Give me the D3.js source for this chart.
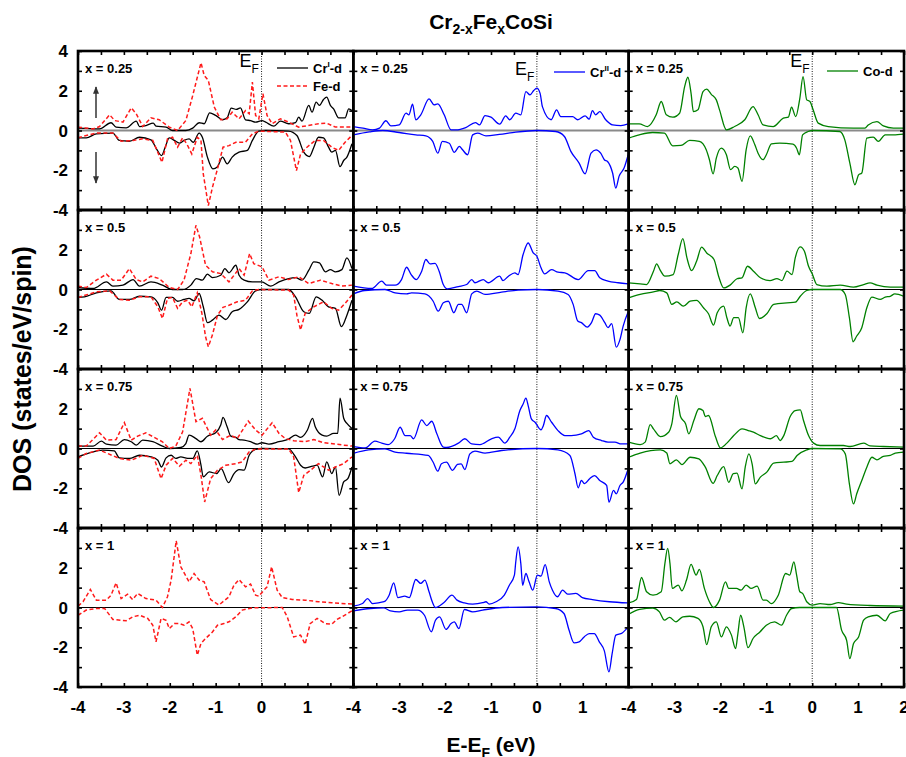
<!DOCTYPE html>
<html>
<head>
<meta charset="utf-8">
<script src="https://cdn.jsdelivr.net/npm/d3@7"></script>
<style>
  body { margin: 0; background: #fff; }
  svg { display: block; font-family: Arial, "Liberation Sans", sans-serif; }
</style>
</head>
<body>
<div id="chart"></div>
<script>
// Cr(2-x)Fe(x)CoSi: DOS parcial por espin (arriba +, abajo -), 4 concentraciones x 3 especies.
// Cada serie: pares [E-EF (eV), DOS (states/eV/spin)].

const concentrations = ["x = 0.25", "x = 0.5", "x = 0.75", "x = 1"];
const xTickLabels = [-4, -3, -2, -1, 0, 1, 2];
const yTickLabels = [4, 2, 0, -2, -4];

// ---- columna 1: Cr(I)-d y Fe-d ----
const crI_up_025 = [[-4,0.12],[-3.53,0.08],[-3.28,0.39],[-3.17,0.17],[-2.95,0.13],[-2.73,0.47],[-2.66,0.2],[-2.52,0.25],[-2.36,0.37],[-2.3,0.22],[-2.08,0.17],[-1.94,0],[-1.65,0],[-1.5,0.12],[-1.36,0.39],[-1.25,0.34],[-1.13,0.89],[-1.0,0.76],[-0.85,0.54],[-0.75,0.64],[-0.66,1.13],[-0.55,1.06],[-0.46,1.14],[-0.35,0.54],[-0.24,0.5],[-0.13,0.42],[0.01,0.5],[0.09,0.42],[0.27,0.22],[0.41,0.47],[0.59,0.34],[0.74,0.4],[0.81,0.67],[0.88,0.47],[1.03,1.26],[1.1,0.92],[1.19,1.43],[1.26,1.26],[1.35,1.56],[1.42,1.68],[1.5,1.26],[1.57,1.09],[1.68,0.64],[1.82,0.64],[1.9,1.09],[1.97,1.0]];
const crI_dn_025 = [[-4,-0.37],[-3.82,-0.37],[-3.6,-0.17],[-3.24,-0.13],[-3.1,-0.5],[-2.88,-0.54],[-2.66,-0.34],[-2.41,-0.47],[-2.29,-0.92],[-2.18,-1.26],[-2.1,-0.84],[-2.01,-0.37],[-1.9,-0.5],[-1.79,-0.64],[-1.69,-0.5],[-1.58,-0.42],[-1.49,-0.59],[-1.36,-0.13],[-1.29,-0.34],[-1.18,-1.34],[-1.06,-1.93],[-0.96,-1.82],[-0.85,-1.34],[-0.75,-1.68],[-0.64,-1.34],[-0.49,-1.09],[-0.31,-1.0],[-0.2,-0.5],[-0.06,-0.03],[0.09,0],[0.59,-0.03],[0.77,-0.25],[0.92,-1.09],[1.04,-1.31],[1.14,-0.84],[1.24,-0.34],[1.35,-0.37],[1.46,-0.84],[1.53,-1.09],[1.61,-1.0],[1.71,-1.82],[1.79,-1.51],[1.86,-1.34],[1.97,-0.67]];
const fe_up_025 = [[-4,0.17],[-3.67,0.08],[-3.53,0.2],[-3.31,0.79],[-3.2,0.5],[-3.02,0.42],[-2.84,1.14],[-2.73,0.84],[-2.59,0.2],[-2.41,0.64],[-2.23,0.54],[-2.01,0.17],[-1.83,0],[-1.65,0.5],[-1.5,1.76],[-1.32,3.41],[-1.25,2.77],[-1.16,2.52],[-1.03,1.18],[-0.89,0.54],[-0.75,0.59],[-0.64,0.92],[-0.49,0.59],[-0.35,1.0],[-0.27,0.84],[-0.2,2.44],[-0.13,0.76],[-0.06,0.59],[0.03,1.85],[0.12,0.76],[0.23,0.34],[0.41,0.59],[0.59,0.42],[0.81,0.17],[1.24,0.34],[1.42,0.37],[1.61,0.17],[1.97,0.17]];
const fe_dn_025 = [[-4,-0.37],[-3.82,-0.25],[-3.6,-0.13],[-3.24,-0.13],[-3.06,-0.54],[-2.8,-0.5],[-2.59,-0.42],[-2.37,-0.5],[-2.17,-1.6],[-2.05,-0.42],[-1.94,-0.34],[-1.83,-0.84],[-1.72,-0.37],[-1.63,-0.67],[-1.52,-1.18],[-1.4,-0.34],[-1.32,-0.5],[-1.27,-2.18],[-1.16,-3.78],[-1.07,-2.86],[-0.96,-1.93],[-0.84,-0.84],[-0.71,-0.76],[-0.56,-0.59],[-0.35,-0.59],[-0.2,-0.17],[-0.06,-0.03],[0.52,-0.08],[0.63,-0.5],[0.76,-2.02],[0.85,-1.18],[0.99,-0.84],[1.17,-0.5],[1.35,-0.5],[1.53,-0.84],[1.68,-1.0],[1.82,-0.59],[1.97,-0.25]];

const crI_up_05 = [[-4,0.1],[-3.67,0.05],[-3.38,0.38],[-3.24,0.17],[-3.02,0.22],[-2.8,0.5],[-2.66,0.17],[-2.41,0.38],[-2.16,0.22],[-1.94,0],[-1.72,0],[-1.54,0.22],[-1.42,0.55],[-1.29,0.47],[-1.18,0.77],[-1.07,0.6],[-0.89,0.72],[-0.8,1.05],[-0.71,0.84],[-0.56,1.22],[-0.49,0.72],[-0.38,0.47],[-0.2,0.38],[0,0.38],[0.2,0.17],[0.38,0.38],[0.59,0.55],[0.74,0.6],[0.88,0.47],[1.03,0.97],[1.14,1.39],[1.26,1.34],[1.39,0.89],[1.5,1.0],[1.61,0.89],[1.75,1.0],[1.86,1.59],[1.97,1.05]];
const crI_dn_05 = [[-4,-0.4],[-3.86,-0.37],[-3.6,-0.17],[-3.28,-0.07],[-3.1,-0.5],[-2.88,-0.5],[-2.66,-0.34],[-2.41,-0.37],[-2.26,-0.67],[-2.18,-1.04],[-2.08,-0.4],[-1.94,-0.4],[-1.83,-0.59],[-1.69,-0.5],[-1.58,-0.45],[-1.47,-0.57],[-1.36,-0.2],[-1.27,-0.87],[-1.18,-1.67],[-1.07,-1.54],[-0.93,-1.29],[-0.78,-1.51],[-0.64,-1.12],[-0.49,-1.0],[-0.31,-0.62],[-0.13,-0.07],[0.01,0],[0.59,0],[0.74,-0.37],[0.92,-1.12],[1.04,-1.2],[1.19,-0.37],[1.32,-0.54],[1.46,-0.87],[1.61,-0.95],[1.74,-1.87],[1.86,-1.29],[1.97,-0.54]];
const fe_up_05 = [[-4,0.17],[-3.82,0.1],[-3.6,0.47],[-3.38,0.77],[-3.24,0.47],[-3.06,0.47],[-2.88,1.05],[-2.73,0.5],[-2.59,0.38],[-2.41,0.67],[-2.23,0.55],[-2.01,0.1],[-1.83,0],[-1.69,0.47],[-1.54,1.81],[-1.43,3.23],[-1.35,2.64],[-1.22,1.22],[-1.07,0.89],[-0.89,0.8],[-0.71,0.38],[-0.49,1.05],[-0.38,0.72],[-0.26,1.81],[-0.17,1.3],[0.01,1.14],[0.16,0.47],[0.38,0.64],[0.59,0.5],[0.81,0.64],[1.03,0.3],[1.28,0.47],[1.53,0.3],[1.75,0.17],[1.97,0.22]];
const fe_dn_05 = [[-4,-0.4],[-3.6,-0.12],[-3.31,-0.07],[-3.1,-0.5],[-2.88,-0.54],[-2.66,-0.37],[-2.41,-0.37],[-2.26,-0.87],[-2.16,-1.46],[-2.05,-0.45],[-1.94,-0.4],[-1.83,-0.95],[-1.72,-0.62],[-1.61,-0.54],[-1.52,-0.87],[-1.4,-0.17],[-1.3,-1.2],[-1.22,-2.38],[-1.16,-2.88],[-1.07,-2.28],[-0.96,-1.29],[-0.84,-0.9],[-0.71,-0.79],[-0.53,-0.62],[-0.35,-0.54],[-0.2,-0.07],[-0.06,0],[0.59,-0.03],[0.7,-0.28],[0.77,-1.29],[0.85,-2.04],[0.95,-1.2],[1.14,-0.87],[1.35,-0.62],[1.53,-0.95],[1.68,-1.04],[1.82,-0.7],[1.97,-0.28]];

const crI_up_075 = [[-4,0.12],[-3.67,0.12],[-3.49,0.37],[-3.38,0.22],[-3.17,0.17],[-2.99,0.45],[-2.84,0.34],[-2.73,0.17],[-2.59,0.42],[-2.37,0.34],[-2.16,0.12],[-2.01,0],[-1.76,0.05],[-1.65,0.25],[-1.58,0.67],[-1.43,0.5],[-1.32,0.34],[-1.18,0.62],[-1.0,0.79],[-0.89,1.18],[-0.84,1.57],[-0.75,1.09],[-0.67,0.62],[-0.56,0.56],[-0.49,0.45],[-0.38,0.42],[-0.24,0.34],[-0.09,0.22],[0.01,0.29],[0.16,0.22],[0.38,0.34],[0.59,0.47],[0.74,0.67],[0.85,0.56],[1.0,0.93],[1.11,1.52],[1.17,1.09],[1.32,0.67],[1.42,0.62],[1.57,0.76],[1.66,0.76],[1.71,2.53],[1.79,1.52],[1.86,1.26],[1.97,1.01]];
const crI_dn_075 = [[-4,-0.42],[-3.75,-0.22],[-3.46,-0.08],[-3.21,-0.12],[-3.1,-0.47],[-2.88,-0.5],[-2.66,-0.34],[-2.41,-0.42],[-2.26,-0.59],[-2.18,-0.93],[-2.08,-0.47],[-1.97,-0.34],[-1.87,-0.5],[-1.76,-0.42],[-1.61,-0.5],[-1.5,-0.5],[-1.4,-0.12],[-1.32,-0.84],[-1.27,-1.43],[-1.14,-1.18],[-0.98,-1.26],[-0.88,-1.01],[-0.72,-1.72],[-0.6,-1.26],[-0.49,-1.06],[-0.38,-1.09],[-0.27,-0.34],[-0.13,-0.05],[0.01,0],[0.59,-0.02],[0.74,-0.42],[0.85,-0.84],[0.95,-0.98],[1.11,-0.89],[1.21,-0.84],[1.33,-1.43],[1.42,-0.67],[1.53,-1.26],[1.61,-0.93],[1.69,-2.36],[1.79,-1.68],[1.88,-1.52],[1.97,-0.93]];
const fe_up_075 = [[-4,0.12],[-3.82,0.12],[-3.53,0.79],[-3.38,0.42],[-3.17,0.45],[-2.99,1.3],[-2.84,0.42],[-2.7,0.62],[-2.52,0.79],[-2.34,0.56],[-2.16,0.34],[-2.01,0],[-1.87,0.12],[-1.72,0.84],[-1.56,3.03],[-1.43,1.35],[-1.29,1.52],[-1.11,0.67],[-1.0,0.93],[-0.85,0.45],[-0.67,0.67],[-0.53,0.5],[-0.29,1.38],[-0.13,0.93],[0.01,0.67],[0.23,1.3],[0.38,0.76],[0.52,0.5],[0.7,0.39],[0.95,0.34],[1.14,0.45],[1.35,0.29],[1.61,0.22],[1.97,0.12]];
const fe_dn_075 = [[-4,-0.5],[-3.82,-0.25],[-3.53,-0.08],[-3.1,-0.5],[-2.84,-0.59],[-2.59,-0.34],[-2.34,-0.5],[-2.19,-1.52],[-2.08,-0.84],[-1.94,-0.5],[-1.79,-0.89],[-1.65,-0.59],[-1.54,-0.76],[-1.4,-0.34],[-1.32,-1.35],[-1.24,-2.69],[-1.11,-1.52],[-0.96,-1.09],[-0.78,-0.84],[-0.56,-0.76],[-0.42,-0.67],[-0.27,-0.17],[-0.13,-0.03],[0.59,-0.02],[0.7,-0.42],[0.81,-2.22],[0.92,-1.35],[1.07,-1.09],[1.24,-0.76],[1.46,-1.09],[1.61,-0.93],[1.79,-0.76],[1.97,-0.42]];

const fe_up_1 = [[-4,0.07],[-3.89,0.29],[-3.73,0.91],[-3.6,0.37],[-3.38,0.37],[-3.28,0.62],[-3.17,1.24],[-3.06,0.45],[-2.92,0.67],[-2.81,0.4],[-2.7,0.71],[-2.52,0.45],[-2.3,0.37],[-2.16,0],[-2.05,0.54],[-1.97,1.38],[-1.86,3.36],[-1.76,2.05],[-1.58,1.29],[-1.47,1.71],[-1.36,1.38],[-1.25,1.29],[-1.11,0.4],[-0.93,0.12],[-0.71,0.54],[-0.6,1.13],[-0.49,1.41],[-0.35,1.04],[-0.24,1.18],[-0.13,0.62],[-0.06,0.57],[0.05,0.87],[0.12,1.04],[0.22,2.05],[0.34,0.87],[0.45,0.5],[0.67,0.4],[0.95,0.37],[1.24,0.29],[1.53,0.24],[1.97,0.17]];
const fe_dn_1 = [[-4,-0.39],[-3.82,-0.13],[-3.6,-0.05],[-3.42,-0.05],[-3.24,-0.6],[-2.95,-0.67],[-2.81,-0.47],[-2.66,-0.39],[-2.48,-0.55],[-2.37,-0.89],[-2.3,-1.73],[-2.19,-0.55],[-2.08,-0.64],[-2.01,-1.06],[-1.9,-0.81],[-1.79,-0.81],[-1.69,-0.89],[-1.58,-0.72],[-1.5,-1.06],[-1.4,-2.4],[-1.32,-1.81],[-1.22,-1.56],[-1.07,-1.23],[-0.96,-0.89],[-0.82,-0.81],[-0.71,-0.72],[-0.56,-0.47],[-0.42,-0.13],[-0.2,-0.02],[0.45,0],[0.56,-0.47],[0.7,-1.48],[0.85,-1.39],[0.95,-1.85],[1.06,-0.81],[1.21,-0.55],[1.39,-0.81],[1.53,-0.84],[1.64,-0.6],[1.75,-0.47],[1.97,-0.17]];

// ---- columna 2: Cr(II)-d ----
const crII_up_025 = [[-4,0.2],[-3.79,0.12],[-3.58,0.03],[-3.43,0.12],[-3.29,0.49],[-3.18,0.23],[-3.0,0.28],[-2.85,0.87],[-2.79,0.79],[-2.71,1.32],[-2.64,0.54],[-2.53,0.79],[-2.35,1.59],[-2.24,1.29],[-2.16,1.34],[-2.02,0.79],[-1.87,0.03],[-1.76,0.03],[-1.55,0.15],[-1.34,0.4],[-1.25,0.28],[-1.13,0.75],[-1.0,0.67],[-0.81,0.32],[-0.68,0.74],[-0.59,0.54],[-0.46,0.87],[-0.35,0.79],[-0.24,1.96],[-0.15,1.79],[-0.07,2.01],[0,2.13],[0.07,1.87],[0.12,1.2],[0.31,0.54],[0.43,1.04],[0.52,0.7],[0.78,0.7],[0.89,0.54],[1.05,0.74],[1.14,0.57],[1.21,1.0],[1.28,0.79],[1.37,0.95],[1.5,0.54],[1.65,0.28],[1.83,0.25],[1.99,0.33]];
const crII_dn_025 = [[-4,-0.22],[-3.65,-0.07],[-3.36,0],[-3.0,-0.1],[-2.64,-0.22],[-2.42,-0.27],[-2.27,-0.55],[-2.16,-1.14],[-2.06,-0.55],[-1.91,-0.64],[-1.8,-1.1],[-1.69,-0.8],[-1.62,-0.97],[-1.51,-1.22],[-1.4,-0.22],[-1.29,-0.13],[-1.11,-0.27],[-0.82,-0.2],[-0.46,-0.08],[0,0],[0.41,-0.05],[0.6,-0.3],[0.74,-1.05],[0.92,-1.64],[1.05,-2.18],[1.18,-1.14],[1.29,-0.97],[1.39,-1.14],[1.47,-1.47],[1.54,-1.56],[1.65,-2.14],[1.72,-2.9],[1.79,-2.31],[1.9,-1.89],[1.99,-1.22]];
const crII_up_05 = [[-4,0.17],[-3.6,0.05],[-3.38,0.42],[-3.28,0.22],[-3.09,0.22],[-2.95,0.5],[-2.84,1.12],[-2.74,0.75],[-2.63,0.5],[-2.51,0.92],[-2.42,1.51],[-2.33,1.29],[-2.22,1.31],[-2.13,0.92],[-2.04,0.25],[-1.95,0.03],[-1.71,0.15],[-1.53,0.25],[-1.42,0.5],[-1.35,0.34],[-1.17,0.5],[-1.06,0.34],[-0.81,0.67],[-0.74,0.45],[-0.62,0.67],[-0.48,0.84],[-0.41,0.75],[-0.3,1.76],[-0.19,2.34],[-0.08,1.84],[0,1.67],[0.09,1.09],[0.17,0.79],[0.32,1.0],[0.46,0.87],[0.61,0.84],[0.9,0.5],[1.12,0.95],[1.26,0.95],[1.37,0.59],[1.55,0.42],[1.77,0.34],[1.99,0.28]];
const crII_dn_05 = [[-4,-0.22],[-3.75,-0.05],[-3.31,0],[-3.09,-0.17],[-2.84,-0.22],[-2.73,-0.17],[-2.44,-0.22],[-2.26,-0.59],[-2.15,-1.09],[-2.04,-0.67],[-1.93,-0.59],[-1.81,-1.17],[-1.71,-0.75],[-1.64,-0.75],[-1.53,-1.17],[-1.42,-0.22],[-1.31,-0.08],[-1.13,-0.25],[-0.77,-0.13],[-0.41,-0.03],[0,0],[0.46,-0.08],[0.68,-0.25],[0.79,-0.75],[0.89,-1.59],[0.97,-1.67],[1.1,-1.89],[1.19,-1.67],[1.28,-1.22],[1.37,-1.29],[1.48,-1.67],[1.55,-1.92],[1.63,-1.72],[1.73,-2.9],[1.81,-2.52],[1.88,-1.84],[1.99,-1.12]];
const crII_up_075 = [[-4,0.1],[-3.74,0.03],[-3.53,0.37],[-3.38,0.27],[-3.24,0.2],[-3.1,0.49],[-2.98,1.07],[-2.87,0.65],[-2.76,0.65],[-2.69,0.49],[-2.51,1.44],[-2.4,1.15],[-2.29,1.37],[-2.18,0.74],[-2.04,0.07],[-1.97,0.05],[-1.71,0.27],[-1.57,0.49],[-1.42,0.23],[-1.24,0.2],[-0.99,0.49],[-0.84,0.57],[-0.7,0.27],[-0.59,0.57],[-0.48,0.99],[-0.37,1.91],[-0.3,2.24],[-0.24,2.53],[-0.19,2.16],[-0.12,1.49],[-0.04,1.32],[0.09,0.94],[0.14,1.15],[0.21,1.66],[0.32,1.32],[0.46,0.9],[0.61,0.65],[0.75,0.65],[0.97,0.74],[1.13,0.9],[1.23,0.57],[1.41,0.4],[1.55,0.32],[1.7,0.32],[1.84,0.23],[1.99,0.23]];
const crII_dn_075 = [[-4,-0.24],[-3.67,-0.07],[-3.31,-0.02],[-3.09,-0.18],[-2.84,-0.24],[-2.37,-0.35],[-2.26,-0.69],[-2.16,-1.14],[-2.08,-0.77],[-1.97,-0.69],[-1.84,-1.1],[-1.73,-0.8],[-1.65,-0.77],[-1.57,-1.06],[-1.46,-0.27],[-1.35,-0.13],[-1.13,-0.23],[-0.77,-0.1],[0,0],[0.46,-0.07],[0.72,-0.35],[0.83,-1.27],[0.9,-1.98],[0.97,-1.61],[1.04,-1.77],[1.15,-1.52],[1.26,-1.36],[1.37,-1.61],[1.52,-1.86],[1.57,-2.7],[1.67,-2.11],[1.73,-2.28],[1.81,-1.86],[1.88,-1.69],[1.99,-1.02]];
const crII_up_1 = [[-4,0.07],[-3.8,0.2],[-3.69,0.45],[-3.58,0.2],[-3.33,0.29],[-3.22,0.62],[-3.12,1.24],[-3.03,0.5],[-2.88,0.57],[-2.78,0.5],[-2.64,1.41],[-2.53,1.21],[-2.44,1.38],[-2.35,0.79],[-2.28,0.29],[-2.21,0],[-2.03,0.24],[-1.85,0.62],[-1.74,0.37],[-1.58,0.23],[-1.4,0.17],[-1.18,0.24],[-1.11,0.29],[-1.04,0.17],[-0.89,0.29],[-0.71,0.62],[-0.6,1.12],[-0.49,1.63],[-0.46,2.3],[-0.41,3.05],[-0.35,2.21],[-0.31,1.12],[-0.24,1.71],[-0.17,1.29],[-0.09,0.87],[0.01,1.63],[0.09,1.58],[0.18,2.16],[0.27,1.29],[0.34,0.87],[0.45,0.54],[0.56,0.87],[0.67,0.67],[0.85,0.71],[0.99,0.5],[1.21,0.4],[1.58,0.29],[1.98,0.23]];
const crII_dn_1 = [[-4,-0.17],[-3.63,-0.05],[-3.34,-0.02],[-3.19,-0.17],[-3.0,-0.22],[-2.82,-0.13],[-2.6,-0.13],[-2.45,-0.39],[-2.3,-1.22],[-2.21,-0.64],[-2.12,-0.47],[-1.98,-1.1],[-1.87,-0.81],[-1.8,-0.72],[-1.7,-1.06],[-1.58,-0.1],[-1.4,-0.22],[-1.18,-0.13],[-0.75,0],[0,0.03],[0.41,-0.05],[0.59,-0.3],[0.7,-1.13],[0.81,-1.78],[0.92,-1.73],[1.03,-1.48],[1.14,-1.31],[1.25,-1.31],[1.36,-1.73],[1.47,-2.18],[1.57,-3.24],[1.64,-2.32],[1.72,-1.39],[1.86,-1.28],[1.98,-1.0]];

// ---- columna 3: Co-d ----
const co_up_025 = [[-4,0.33],[-3.77,0.33],[-3.59,0.2],[-3.4,0.79],[-3.29,1.46],[-3.18,0.79],[-3.04,0.67],[-2.89,0.87],[-2.78,2.21],[-2.71,2.68],[-2.64,1.87],[-2.59,0.95],[-2.49,1.04],[-2.38,1.96],[-2.3,2.08],[-2.2,1.82],[-2.09,1.54],[-2.02,1.04],[-1.87,0.03],[-1.69,0.2],[-1.47,0.54],[-1.29,1.2],[-1.18,0.79],[-1.07,0.28],[-0.85,0.2],[-0.63,0.62],[-0.52,0.67],[-0.45,1.17],[-0.36,0.7],[-0.27,1.62],[-0.2,2.71],[-0.12,1.54],[-0.05,1.46],[0.02,1.04],[0.13,0.37],[0.35,0.2],[0.9,0.12],[1.15,0.12],[1.22,0.28],[1.41,0.45],[1.55,0.23],[1.77,0.12],[1.99,0.12]];
const co_dn_025 = [[-4,-0.38],[-3.77,-0.22],[-3.48,-0.1],[-3.22,-0.13],[-3.04,-0.77],[-2.86,-0.75],[-2.67,-0.5],[-2.46,-0.55],[-2.31,-0.97],[-2.24,-1.47],[-2.16,-2.18],[-2.09,-1.39],[-1.98,-0.89],[-1.87,-1.22],[-1.78,-1.97],[-1.69,-1.81],[-1.62,-1.89],[-1.53,-2.56],[-1.44,-0.97],[-1.35,-0.27],[-1.25,-0.72],[-1.18,-1.14],[-1.07,-1.47],[-1.0,-1.22],[-0.89,-0.67],[-0.71,-0.64],[-0.42,-0.69],[-0.34,-0.89],[-0.28,-1.22],[-0.21,-0.22],[-0.09,-0.05],[0.02,0],[0.6,-0.05],[0.71,-0.47],[0.82,-1.64],[0.93,-2.73],[1.01,-2.23],[1.08,-2.14],[1.19,-0.38],[1.33,-0.33],[1.44,-0.55],[1.59,-0.22],[1.77,-0.22],[1.99,-0.18]];
const co_up_05 = [[-4,0.33],[-3.75,0.28],[-3.61,0.25],[-3.46,0.92],[-3.39,1.29],[-3.32,1.0],[-3.21,0.67],[-3.03,0.75],[-2.92,1.76],[-2.82,2.56],[-2.73,1.59],[-2.63,0.95],[-2.52,1.42],[-2.41,2.13],[-2.3,1.84],[-2.14,1.51],[-2.04,0.67],[-1.93,0.08],[-1.79,0.22],[-1.64,0.54],[-1.53,0.59],[-1.41,1.17],[-1.28,0.92],[-1.13,0.59],[-0.92,0.45],[-0.77,0.55],[-0.66,0.45],[-0.55,0.92],[-0.44,0.75],[-0.37,1.59],[-0.26,2.14],[-0.17,1.92],[-0.08,1.17],[0,0.79],[0.1,0.25],[0.32,0.17],[0.61,0.22],[0.9,0.12],[1.12,0.25],[1.26,0.33],[1.41,0.22],[1.7,0.12],[1.99,0.12]];
const co_dn_05 = [[-4,-0.42],[-3.75,-0.25],[-3.46,-0.12],[-3.32,-0.05],[-3.17,-0.17],[-3.06,-0.75],[-2.95,-0.62],[-2.81,-0.84],[-2.66,-0.59],[-2.52,-0.55],[-2.37,-0.92],[-2.26,-1.22],[-2.15,-1.79],[-2.07,-1.17],[-1.93,-0.84],[-1.86,-1.42],[-1.79,-1.84],[-1.71,-1.42],[-1.61,-1.42],[-1.51,-2.18],[-1.44,-0.92],[-1.35,-0.22],[-1.24,-0.92],[-1.15,-1.46],[-0.99,-1.22],[-0.84,-0.75],[-0.55,-0.67],[-0.37,-0.64],[-0.26,-0.34],[-0.12,-0.05],[0,0],[0.61,0],[0.72,-0.25],[0.81,-1.42],[0.89,-2.63],[0.97,-2.34],[1.08,-1.92],[1.19,-0.92],[1.3,-0.38],[1.48,-0.5],[1.59,-0.38],[1.7,-0.34],[1.8,-0.22],[1.99,-0.34]];
const co_up_075 = [[-4,0.32],[-3.75,0.2],[-3.64,0.32],[-3.53,1.2],[-3.46,0.99],[-3.31,0.6],[-3.13,0.82],[-3.06,1.24],[-2.96,2.67],[-2.87,1.61],[-2.76,1.24],[-2.69,0.74],[-2.58,1.41],[-2.47,2.0],[-2.38,1.91],[-2.33,1.61],[-2.26,1.66],[-2.11,0.6],[-2.0,0.03],[-1.86,0.27],[-1.71,0.65],[-1.53,0.99],[-1.39,0.9],[-1.28,0.82],[-1.13,0.65],[-0.91,0.49],[-0.78,0.65],[-0.7,0.4],[-0.62,0.65],[-0.48,1.61],[-0.37,1.91],[-0.26,1.94],[-0.19,1.41],[-0.08,0.65],[0.03,0.27],[0.17,0.15],[0.68,0.15],[0.83,0.1],[1.12,0.27],[1.26,0.13],[1.55,0.1],[1.99,0.07]];
const co_dn_075 = [[-4,-0.44],[-3.75,-0.23],[-3.31,-0.07],[-3.17,-0.23],[-3.1,-0.77],[-2.96,-0.57],[-2.84,-0.81],[-2.66,-0.44],[-2.47,-0.52],[-2.33,-0.94],[-2.16,-1.75],[-2.07,-1.36],[-1.93,-0.91],[-1.82,-1.7],[-1.72,-1.27],[-1.64,-1.24],[-1.53,-2.03],[-1.46,-0.94],[-1.38,-0.27],[-1.31,-0.77],[-1.24,-1.78],[-1.13,-1.44],[-0.99,-1.19],[-0.84,-0.74],[-0.62,-0.69],[-0.44,-0.65],[-0.33,-0.35],[-0.12,-0.07],[0,0],[0.61,-0.02],[0.72,-0.27],[0.81,-1.78],[0.9,-2.79],[0.97,-2.28],[1.08,-1.61],[1.19,-0.94],[1.3,-0.44],[1.41,-0.57],[1.55,-0.4],[1.7,-0.35],[1.81,-0.23],[1.99,-0.18]];
const co_up_1 = [[-4,0.23],[-3.83,0.4],[-3.72,1.51],[-3.61,0.79],[-3.47,0.62],[-3.29,0.79],[-3.21,2.22],[-3.15,2.97],[-3.1,2.22],[-3.05,0.96],[-2.92,1.13],[-2.84,0.84],[-2.74,1.38],[-2.64,2.17],[-2.53,1.63],[-2.46,1.92],[-2.35,0.96],[-2.24,0.29],[-2.15,0],[-2.02,0.37],[-1.89,1.29],[-1.82,0.96],[-1.65,0.96],[-1.55,0.87],[-1.44,1.13],[-1.33,0.96],[-1.2,1.08],[-1.07,0.37],[-1.0,0.37],[-0.89,0.2],[-0.74,0.62],[-0.58,1.71],[-0.49,1.63],[-0.4,2.3],[-0.34,1.63],[-0.27,0.79],[-0.21,0.71],[-0.12,0.29],[0,0.12],[0.17,0.2],[0.39,0.15],[0.57,0.25],[0.75,0.17],[1.26,0.1],[1.99,0.07]];
const co_dn_1 = [[-4,-0.34],[-3.76,-0.1],[-3.47,-0.03],[-3.33,-0.22],[-3.22,-0.64],[-3.11,-0.5],[-2.97,-0.72],[-2.82,-0.47],[-2.67,-0.44],[-2.49,-0.55],[-2.38,-0.97],[-2.3,-1.87],[-2.2,-0.97],[-2.09,-0.72],[-1.98,-1.48],[-1.87,-0.97],[-1.76,-1.39],[-1.67,-2.07],[-1.62,-1.31],[-1.56,-0.39],[-1.49,-0.97],[-1.4,-2.02],[-1.29,-1.56],[-1.14,-1.23],[-1.0,-0.89],[-0.82,-0.72],[-0.67,-0.89],[-0.56,-0.39],[-0.45,-0.05],[-0.27,0],[0.53,0],[0.64,-1.14],[0.75,-1.65],[0.82,-2.57],[0.9,-1.81],[1.01,-1.48],[1.12,-0.64],[1.22,-0.47],[1.41,-0.39],[1.59,-0.67],[1.7,-0.3],[1.99,-0.13]];

// estilos por especie
const STYLE = {
  crI:  { color: "#000000", dash: null,  width: 1.3, curve: d3.curveMonotoneX },
  fe:   { color: "#ff1a1a", dash: "4,2.5", width: 1.5, curve: d3.curveLinear },
  crII: { color: "#0000ff", dash: null,  width: 1.3, curve: d3.curveMonotoneX },
  co:   { color: "#008000", dash: null,  width: 1.3, curve: d3.curveMonotoneX },
};

// panels[fila][columna] = lista de [especie, datos]
const panels = [
  [[["crI", crI_up_025], ["crI", crI_dn_025], ["fe", fe_up_025], ["fe", fe_dn_025]], [["crII", crII_up_025], ["crII", crII_dn_025]], [["co", co_up_025], ["co", co_dn_025]]],
  [[["crI", crI_up_05], ["crI", crI_dn_05], ["fe", fe_up_05], ["fe", fe_dn_05]], [["crII", crII_up_05], ["crII", crII_dn_05]], [["co", co_up_05], ["co", co_dn_05]]],
  [[["crI", crI_up_075], ["crI", crI_dn_075], ["fe", fe_up_075], ["fe", fe_dn_075]], [["crII", crII_up_075], ["crII", crII_dn_075]], [["co", co_up_075], ["co", co_dn_075]]],
  [[["fe", fe_up_1], ["fe", fe_dn_1]], [["crII", crII_up_1], ["crII", crII_dn_1]], [["co", co_up_1], ["co", co_dn_1]]],
];

const width = 906, height = 757;
const plotLeft = 78, plotTop = 51;
const colW = 826 / 3, rowH = 159;

const x = d3.scaleLinear().domain([-4, 2]).range([0, colW]);
const y = d3.scaleLinear().domain([-4, 4]).range([rowH, 0]);

const svg = d3.select("#chart").append("svg")
  .attr("width", width).attr("height", height);

const defs = svg.append("defs");
defs.append("clipPath").attr("id", "panelClip")
  .append("rect").attr("x", 0).attr("y", 0).attr("width", colW).attr("height", rowH);
defs.append("marker").attr("id", "arrow").attr("viewBox", "0 0 10 10")
  .attr("refX", 9).attr("refY", 5).attr("markerWidth", 5).attr("markerHeight", 6)
  .attr("orient", "auto")
  .append("path").attr("d", "M0,1 L10,5 L0,9 Z").attr("fill", "#333");

panels.forEach((row, r) => {
  row.forEach((series, c) => {
    const g = svg.append("g")
      .attr("transform", `translate(${plotLeft + c * colW},${plotTop + r * rowH})`);
    const plot = g.append("g").attr("clip-path", "url(#panelClip)");

    // linea de cero
    plot.append("line")
      .attr("x1", 0).attr("x2", colW).attr("y1", y(0)).attr("y2", y(0))
      .attr("stroke", r === 0 ? "#8a8a8a" : "#000")
      .attr("stroke-width", r === 0 ? 2 : 1);

    // nivel de Fermi
    plot.append("line")
      .attr("x1", x(0)).attr("x2", x(0)).attr("y1", 0).attr("y2", rowH)
      .attr("stroke", "#000").attr("stroke-width", 0.9)
      .attr("stroke-dasharray", "1,1.5");

    series.forEach(([sp, data]) => {
      const st = STYLE[sp];
      const line = d3.line().x(d => x(d[0])).y(d => y(d[1])).curve(st.curve);
      plot.append("path")
        .attr("d", line(data))
        .attr("fill", "none")
        .attr("stroke", st.color)
        .attr("stroke-width", st.width)
        .attr("stroke-dasharray", st.dash);
    });

    // ticks hacia dentro en los 4 lados
    const xt = d3.range(-4, 2.001, 0.5), yt = d3.range(-4, 4.001, 1);
    const tickAxes = [
      [d3.axisBottom(x).tickValues(xt), `translate(0,${rowH})`],
      [d3.axisTop(x).tickValues(xt), "translate(0,0)"],
      [d3.axisLeft(y).tickValues(yt), "translate(0,0)"],
      [d3.axisRight(y).tickValues(yt), `translate(${colW},0)`],
    ];
    tickAxes.forEach(([ax, tr]) => {
      const a = g.append("g").attr("transform", tr)
        .call(ax.tickSize(-4).tickSizeOuter(0).tickFormat(""));
      a.select(".domain").remove();
      a.selectAll(".tick line").attr("stroke", "#000").attr("stroke-width", 1.6);
    });

    g.append("rect")
      .attr("x", 0).attr("y", 0).attr("width", colW).attr("height", rowH)
      .attr("fill", "none").attr("stroke", "#000").attr("stroke-width", 2.6);

    g.append("text")
      .attr("x", 7).attr("y", 22)
      .attr("font-size", "13px").attr("font-weight", "bold")
      .text(concentrations[r]);

    // etiquetas del eje y (solo columna izquierda)
    if (c === 0) {
      const labs = r === 0 ? yTickLabels : yTickLabels.slice(1);
      labs.forEach(v => {
        g.append("text")
          .attr("x", -10).attr("y", y(v)).attr("dy", "0.36em")
          .attr("text-anchor", "end")
          .attr("font-size", "17px").attr("font-weight", "bold")
          .text(String(v));
      });
    }
    // etiquetas del eje x (solo ultima fila)
    if (r === panels.length - 1) {
      const labs = c === 2 ? xTickLabels : xTickLabels.slice(0, -1);
      labs.forEach(v => {
        g.append("text")
          .attr("x", x(v)).attr("y", rowH + 26)
          .attr("text-anchor", "middle")
          .attr("font-size", "17px").attr("font-weight", "bold")
          .text(String(v));
      });
    }
  });
});

// E_F en la fila superior
const efY = [67, 75, 67];
[0, 1, 2].forEach(c => {
  const t = svg.append("text")
    .attr("x", plotLeft + c * colW + x(0) - 22).attr("y", efY[c])
    .attr("font-size", "18px");
  t.append("tspan").text("E");
  t.append("tspan").attr("font-size", "12px").attr("dy", 6).text("F");
});

// leyendas
function legendEntry(px, py, sp, main, sup, rest) {
  const st = STYLE[sp];
  svg.append("line")
    .attr("x1", px).attr("x2", px + 31).attr("y1", py).attr("y2", py)
    .attr("stroke", st.color).attr("stroke-width", st.width)
    .attr("stroke-dasharray", st.dash);
  const t = svg.append("text")
    .attr("x", px + 36).attr("y", py + 5)
    .attr("font-size", "13px").attr("font-weight", "bold");
  t.append("tspan").text(main);
  if (sup) {
    t.append("tspan").attr("font-size", "8px").attr("dy", -6).text(sup);
    t.append("tspan").attr("dy", 6).text(rest);
  } else {
    t.append("tspan").text(rest);
  }
}
legendEntry(277, 68, "crI", "Cr", "I", "-d");
legendEntry(277, 86, "fe", "Fe", null, "-d");
legendEntry(554, 72, "crII", "Cr", "II", "-d");
legendEntry(827, 71, "co", "Co", null, "-d");

// flechas de espin
svg.append("line").attr("x1", 96).attr("x2", 96).attr("y1", 118).attr("y2", 87)
  .attr("stroke", "#333").attr("stroke-width", 1.5).attr("marker-end", "url(#arrow)");
svg.append("line").attr("x1", 96).attr("x2", 96).attr("y1", 152).attr("y2", 183)
  .attr("stroke", "#333").attr("stroke-width", 1.5).attr("marker-end", "url(#arrow)");

// titulo
const title = svg.append("text")
  .attr("x", 491).attr("y", 29).attr("text-anchor", "middle")
  .attr("font-size", "21px").attr("font-weight", "bold");
title.append("tspan").text("Cr");
title.append("tspan").attr("font-size", "14px").attr("dy", 5).text("2-x");
title.append("tspan").attr("dy", -5).text("Fe");
title.append("tspan").attr("font-size", "14px").attr("dy", 5).text("x");
title.append("tspan").attr("dy", -5).text("CoSi");

// titulos de ejes
svg.append("text")
  .attr("transform", `translate(31,${plotTop + 2 * rowH}) rotate(-90)`)
  .attr("text-anchor", "middle")
  .attr("font-size", "25px").attr("font-weight", "bold")
  .text("DOS (states/eV/spin)");

const xl = svg.append("text")
  .attr("x", 491).attr("y", 752).attr("text-anchor", "middle")
  .attr("font-size", "21px").attr("font-weight", "bold");
xl.append("tspan").text("E-E");
xl.append("tspan").attr("font-size", "14px").attr("dy", 6).text("F");
xl.append("tspan").attr("dy", -6).text(" (eV)");
</script>
</body>
</html>
